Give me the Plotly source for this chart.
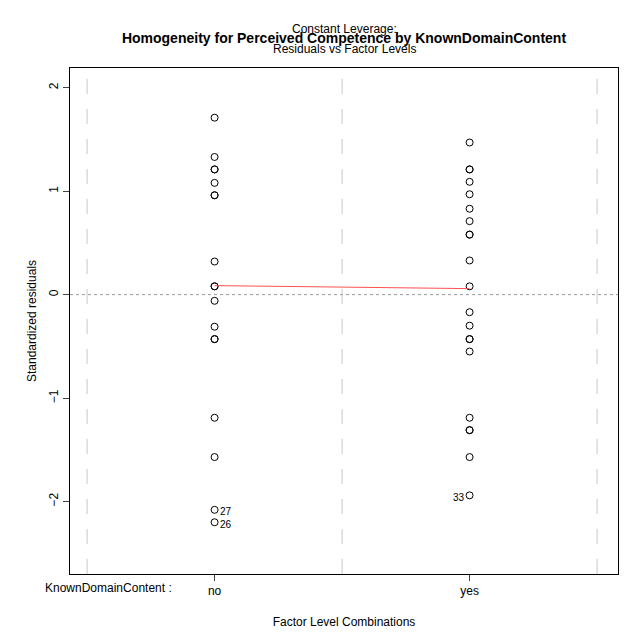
import plotly.graph_objects as go

levels = ["no", "yes"]
x_pos = [0.5, 1.5]
res_no = [1.71, 1.33, 1.21, 1.21, 1.08, 0.96, 0.96, 0.32, 0.08, 0.08, -0.06, -0.31, -0.43, -0.43, -1.19, -1.57, -2.08, -2.20]
res_yes = [1.47, 1.21, 1.21, 1.09, 0.97, 0.83, 0.71, 0.58, 0.58, 0.33, 0.08, -0.17, -0.30, -0.43, -0.43, -0.55, -1.19, -1.31, -1.31, -1.57, -1.94]
smooth_y = [0.087, 0.058]
labels = [("27", 0.5, -2.08, "right"), ("26", 0.5, -2.20, "right"), ("33", 1.5, -1.94, "left")]
dash_x = [0, 1, 2]

fig = go.Figure()
fig.add_trace(go.Scatter(x=[x_pos[0]]*len(res_no)+[x_pos[1]]*len(res_yes), y=res_no+res_yes,
    mode="markers", marker=dict(symbol="circle-open", size=7, color="black", line=dict(width=1)), showlegend=False))
fig.add_trace(go.Scatter(x=x_pos, y=smooth_y, mode="lines", line=dict(color="#ff5050", width=1), showlegend=False))
for d in dash_x:
    fig.add_shape(type="line", x0=d, x1=d, y0=0, y1=1, yref="paper", line=dict(color="#c8c8c8", dash="longdash", width=1))
fig.add_shape(type="line", x0=0, x1=1, xref="paper", y0=0, y1=0, line=dict(color="#999999", dash="dot", width=1))
for t, x, y, side in labels:
    fig.add_annotation(x=x, y=y, text=t, showarrow=False, font=dict(size=10, color="black"),
        xshift=(11 if side == "right" else -11), yshift=-2)
fig.add_annotation(x=0.19, xref="paper", y=-0.01, yref="paper", text="KnownDomainContent :", showarrow=False,
    xanchor="right", yanchor="top", font=dict(size=12, color="black"))
fig.add_annotation(x=0.5, xref="paper", y=1.06, yref="paper", text="Constant Leverage:", showarrow=False,
    font=dict(size=12, color="black"), yanchor="bottom")
fig.add_annotation(x=0.5, xref="paper", y=1.055, yref="paper", text="Residuals vs Factor Levels", showarrow=False,
    font=dict(size=12, color="black"), yanchor="top")

fig.update_layout(
    width=640, height=640, plot_bgcolor="white", paper_bgcolor="white",
    margin=dict(l=62, r=30, t=60, b=74),
    font=dict(family="Liberation Sans, Arial", size=12, color="black"),
    title=dict(text="<b>Homogeneity for Perceived Competence by KnownDomainContent</b>", x=0.525, y=0.953,
               xanchor="center", yanchor="middle", automargin=False, font=dict(size=14)),
    xaxis=dict(range=[-0.067, 2.082], tickvals=x_pos, ticktext=levels, showgrid=False, zeroline=False,
               showline=True, mirror=True, linecolor="black", ticks="outside", ticklen=6, automargin=False,
               title=dict(text="Factor Level Combinations", standoff=20, font=dict(size=12))),
    yaxis=dict(range=[-2.70, 2.19], tickvals=[-2, -1, 0, 1, 2], showgrid=False, zeroline=False,
               showline=True, mirror=True, linecolor="black", ticks="outside", ticklen=6, tickangle=-90,
               automargin=False, title=dict(text="Standardized residuals", standoff=8, font=dict(size=12))),
)
fig.write_html("out.html")
